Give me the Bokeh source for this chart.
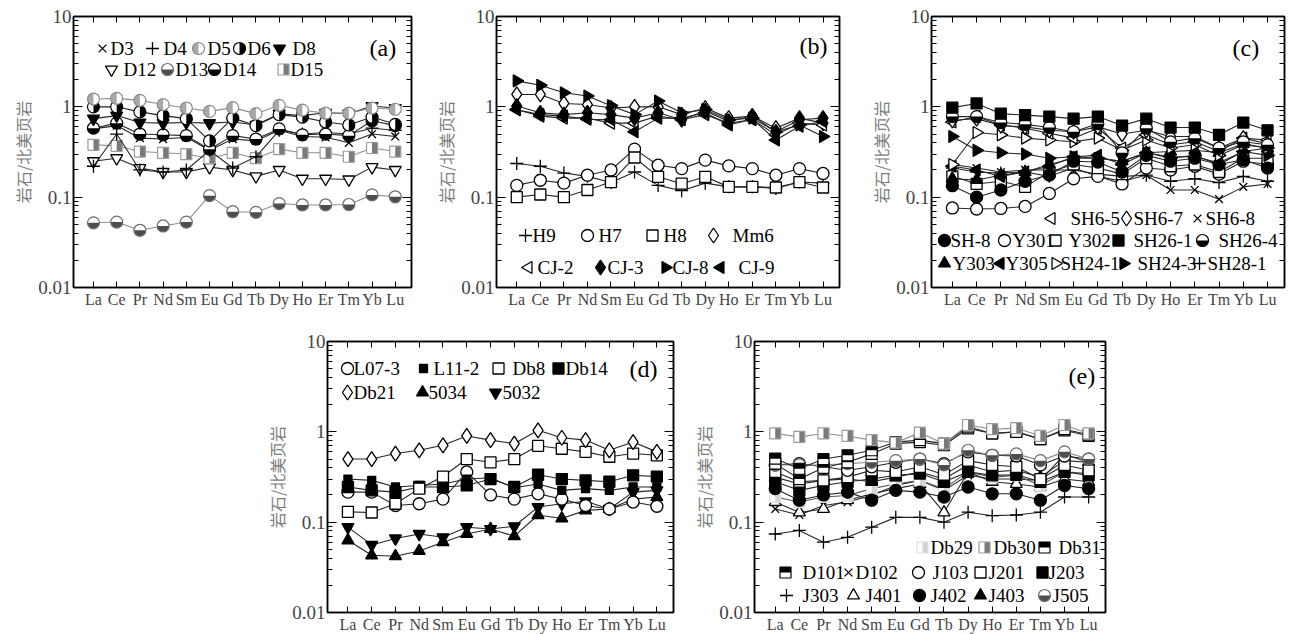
import math
from bokeh.plotting import figure
from bokeh.models import Range1d, FixedTicker, LogAxis, LinearAxis, LinearScale, Spacer
from bokeh.layouts import row, column
from bokeh.core.properties import value
from bokeh.embed import file_html
from bokeh.resources import INLINE

# ---------------------------------------------------------------- data
ELEMENTS = ["La", "Ce", "Pr", "Nd", "Sm", "Eu", "Gd", "Tb", "Dy", "Ho", "Er", "Tm", "Yb", "Lu"]
Y_MAJOR = [0.01, 0.1, 1, 10]
Y_LABELS = ["0.01", "0.1", "1", "10"]
Y_TITLE = "岩石/北美页岩"

# panel (a)
A_D3 = [0.57, 0.62, 0.45, 0.44, 0.46, 0.33, 0.44, 0.42, 0.55, 0.47, 0.46, 0.40, 0.50, 0.47]
A_D4 = [0.22, 0.50, 0.20, 0.19, 0.20, 0.33, 0.21, 0.28, 0.55, 0.50, 0.52, 0.50, 0.58, 0.55]
A_D5 = [1.22, 1.24, 1.18, 1.06, 0.97, 0.89, 0.98, 0.84, 1.04, 0.92, 0.85, 0.85, 0.97, 0.94]
A_D6 = [1.00, 1.00, 0.88, 0.80, 0.74, 0.42, 0.75, 0.62, 0.82, 0.77, 0.68, 0.63, 0.77, 0.64]
A_D8 = [0.74, 0.80, 0.67, 0.66, 0.67, 0.66, 0.68, 0.63, 0.84, 0.80, 0.86, 0.84, 1.02, 0.97]
A_D12 = [0.25, 0.27, 0.21, 0.19, 0.19, 0.215, 0.20, 0.17, 0.20, 0.16, 0.16, 0.157, 0.215, 0.20]
A_D13 = [0.052, 0.053, 0.043, 0.048, 0.053, 0.104, 0.069, 0.068, 0.085, 0.082, 0.082, 0.083, 0.106, 0.101]
A_D14 = [0.58, 0.66, 0.50, 0.49, 0.48, 0.34, 0.48, 0.44, 0.57, 0.49, 0.50, 0.48, 0.70, 0.62]
A_D15 = [0.38, 0.37, 0.32, 0.31, 0.30, 0.27, 0.31, 0.27, 0.34, 0.31, 0.31, 0.28, 0.35, 0.32]

# panel (b)
B_H9 = [0.236, 0.22, 0.185, 0.17, 0.145, 0.19, 0.135, 0.118, 0.143, 0.13, 0.13, 0.125, 0.147, 0.143]
B_H7 = [0.135, 0.154, 0.143, 0.175, 0.20, 0.34, 0.226, 0.207, 0.257, 0.222, 0.207, 0.175, 0.207, 0.183]
B_H8 = [0.10, 0.107, 0.10, 0.12, 0.147, 0.275, 0.168, 0.141, 0.168, 0.13, 0.13, 0.128, 0.147, 0.128]
B_MM6 = [1.37, 1.37, 1.09, 1.06, 0.97, 1.00, 1.00, 0.82, 0.97, 0.75, 0.79, 0.58, 0.75, 0.66]
B_CJ2 = [0.93, 0.79, 0.75, 0.75, 0.66, 0.66, 0.79, 0.72, 0.82, 0.66, 0.72, 0.49, 0.66, 0.63]
B_CJ3 = [1.02, 0.86, 0.82, 0.86, 0.82, 0.75, 0.86, 0.72, 0.90, 0.69, 0.79, 0.53, 0.72, 0.75]
B_CJ8 = [1.94, 1.73, 1.43, 1.32, 1.03, 0.82, 1.16, 0.86, 0.93, 0.72, 0.75, 0.53, 0.63, 0.47]
B_CJ9 = [0.93, 0.82, 0.79, 0.73, 0.72, 0.53, 0.75, 0.75, 0.86, 0.63, 0.73, 0.43, 0.61, 0.69]

# panel (c)
C_SH6_5 = [0.68, 0.78, 0.63, 0.58, 0.51, 0.45, 0.58, 0.35, 0.49, 0.38, 0.41, 0.32, 0.45, 0.43]
C_SH6_7 = [0.71, 0.74, 0.62, 0.60, 0.55, 0.53, 0.60, 0.50, 0.55, 0.47, 0.47, 0.35, 0.45, 0.39]
C_SH6_8 = [0.23, 0.21, 0.19, 0.20, 0.20, 0.20, 0.18, 0.17, 0.175, 0.12, 0.12, 0.095, 0.13, 0.14]
C_SH_8 = [0.134, 0.10, 0.12, 0.15, 0.176, 0.25, 0.245, 0.19, 0.29, 0.25, 0.27, 0.23, 0.26, 0.21]
C_Y301 = [0.076, 0.074, 0.075, 0.079, 0.11, 0.16, 0.17, 0.14, 0.21, 0.20, 0.22, 0.18, 0.25, 0.23]
C_Y302 = [0.17, 0.14, 0.15, 0.13, 0.19, 0.23, 0.21, 0.18, 0.27, 0.22, 0.23, 0.19, 0.27, 0.27]
C_SH26_1 = [0.98, 1.09, 0.84, 0.81, 0.78, 0.74, 0.78, 0.62, 0.74, 0.59, 0.59, 0.49, 0.67, 0.55]
C_SH26_4 = [0.78, 0.78, 0.67, 0.64, 0.59, 0.53, 0.65, 0.31, 0.58, 0.41, 0.45, 0.35, 0.41, 0.38]
C_Y303 = [0.16, 0.155, 0.175, 0.19, 0.23, 0.27, 0.27, 0.25, 0.31, 0.32, 0.33, 0.31, 0.39, 0.35]
C_Y305 = [0.22, 0.20, 0.17, 0.19, 0.22, 0.28, 0.29, 0.23, 0.31, 0.28, 0.28, 0.24, 0.32, 0.35]
C_SH24_1 = [0.23, 0.52, 0.49, 0.45, 0.43, 0.41, 0.45, 0.33, 0.43, 0.35, 0.38, 0.29, 0.38, 0.35]
C_SH24_3 = [0.47, 0.33, 0.31, 0.30, 0.27, 0.28, 0.27, 0.25, 0.31, 0.27, 0.29, 0.23, 0.32, 0.29]
C_SH28_1 = [0.21, 0.19, 0.185, 0.19, 0.17, 0.21, 0.17, 0.15, 0.175, 0.15, 0.16, 0.145, 0.17, 0.15]

# panel (d)
D_L07_3 = [0.215, 0.215, 0.153, 0.16, 0.18, 0.36, 0.20, 0.18, 0.206, 0.18, 0.153, 0.14, 0.167, 0.15]
D_L11_2 = [0.30, 0.29, 0.245, 0.255, 0.265, 0.30, 0.31, 0.24, 0.265, 0.225, 0.235, 0.225, 0.245, 0.245]
D_DB8 = [0.13, 0.128, 0.16, 0.235, 0.32, 0.50, 0.46, 0.50, 0.70, 0.65, 0.60, 0.53, 0.575, 0.55]
D_DB14 = [0.245, 0.225, 0.215, 0.245, 0.245, 0.255, 0.30, 0.245, 0.335, 0.30, 0.29, 0.28, 0.33, 0.32]
D_DB21 = [0.50, 0.50, 0.575, 0.625, 0.71, 0.90, 0.81, 0.74, 1.04, 0.86, 0.81, 0.625, 0.77, 0.60]
D_5034 = [0.063, 0.043, 0.042, 0.048, 0.060, 0.074, 0.084, 0.070, 0.12, 0.11, 0.135, 0.14, 0.18, 0.19]
D_5032 = [0.088, 0.056, 0.066, 0.074, 0.068, 0.088, 0.084, 0.090, 0.147, 0.16, 0.17, 0.14, 0.215, 0.225]

# panel (e)
E_DB29 = [0.19, 0.167, 0.19, 0.197, 0.235, 0.265, 0.29, 0.235, 0.36, 0.315, 0.33, 0.255, 0.36, 0.345]
E_DB30 = [0.96, 0.88, 0.96, 0.90, 0.81, 0.76, 0.98, 0.74, 1.19, 1.07, 1.10, 0.90, 1.19, 0.96]
E_DB31 = [0.505, 0.39, 0.50, 0.55, 0.625, 0.77, 0.81, 0.74, 1.14, 0.96, 1.00, 0.83, 1.07, 0.93]
E_D101 = [0.445, 0.30, 0.40, 0.46, 0.57, 0.74, 0.77, 0.71, 1.09, 0.96, 1.00, 0.83, 1.04, 0.90]
E_D102 = [0.14, 0.12, 0.153, 0.167, 0.197, 0.255, 0.29, 0.225, 0.33, 0.30, 0.30, 0.29, 0.56, 0.46]
E_J103 = [0.43, 0.445, 0.41, 0.375, 0.41, 0.46, 0.50, 0.445, 0.60, 0.55, 0.54, 0.43, 0.54, 0.50]
E_J201 = [0.36, 0.28, 0.29, 0.315, 0.375, 0.36, 0.41, 0.335, 0.48, 0.43, 0.41, 0.30, 0.43, 0.375]
E_J203 = [0.28, 0.225, 0.255, 0.28, 0.30, 0.33, 0.345, 0.28, 0.36, 0.33, 0.335, 0.28, 0.36, 0.33]
E_J303 = [0.074, 0.081, 0.060, 0.068, 0.088, 0.113, 0.113, 0.10, 0.129, 0.118, 0.12, 0.129, 0.19, 0.19]
E_J401 = [0.167, 0.128, 0.14, 0.175, 0.206, 0.235, 0.265, 0.128, 0.36, 0.28, 0.265, 0.245, 0.30, 0.28]
E_J402 = [0.235, 0.175, 0.20, 0.215, 0.175, 0.225, 0.215, 0.19, 0.245, 0.206, 0.206, 0.175, 0.255, 0.235]
E_J403 = [0.315, 0.265, 0.29, 0.30, 0.28, 0.315, 0.36, 0.30, 0.43, 0.36, 0.375, 0.315, 0.48, 0.46]
E_J505 = [0.43, 0.43, 0.43, 0.445, 0.46, 0.48, 0.50, 0.43, 0.625, 0.55, 0.57, 0.48, 0.60, 0.50]

# ---------------------------------------------------------------- styles
X_IDX = list(range(len(ELEMENTS)))
X_START, X_END = -0.86, 13.7
Y_MIN, Y_MAX = 0.01, 10
Y_MINOR = [k * 10.0 ** e for e in (-2, -1, 0) for k in range(2, 10)]

DARK = "#262626"
GRAYL = "#8f8f8f"
SERIF = "Liberation Serif"

def mk(marker, fill="white", edge="black", size=12, angle=0.0, line=DARK):
    return dict(kind="marker", marker=marker, fill=fill, edge=edge, size=size, angle=angle, line=line)

def hc(half, fill, edge="black", size=12, line=DARK):
    return dict(kind="half_circle", half=half, fill=fill, edge=edge, size=size, line=line)

def hs(half, fill, edge="black", size=11, line=DARK):
    return dict(kind="half_square", half=half, fill=fill, edge=edge, size=size, line=line)

HP = math.pi / 2
STYLES = {
    "x": mk("x", fill=None, size=11),
    "plus": mk("cross", fill=None, size=13),
    "circ_o": mk("circle", "white"),
    "circ_f": mk("circle", "black"),
    "sq_o": mk("square", "white", size=11),
    "sq_f": mk("square", "black", size=11),
    "sq_small": mk("square", "black", size=8),
    "dia_o": mk("diamond", "white", size=15),
    "dia_f": mk("diamond", "black", size=15),
    "up_o": mk("triangle", "white", size=12),
    "up_f": mk("triangle", "black", size=12),
    "dn_o": mk("inverted_triangle", "white", size=12),
    "dn_f": mk("inverted_triangle", "black", size=12),
    "lt_o": mk("triangle", "white", size=12, angle=HP),
    "lt_f": mk("triangle", "black", size=12, angle=HP),
    "rt_o": mk("triangle", "white", size=12, angle=-HP),
    "rt_f": mk("triangle", "black", size=12, angle=-HP),
    "hc_left_lg": hc("left", "#a9a9a9", edge="#8c8c8c", line=GRAYL),
    "hc_right_k": hc("right", "black"),
    "hc_bot_dg": hc("bottom", "#4d4d4d", edge="#6e6e6e", line=GRAYL),
    "hc_bot_k": hc("bottom", "black"),
    "hs_right_g": hs("right", "#7a7a7a", edge="#9c9c9c", line=GRAYL),
    "hs_right_lg": hs("right", "#d4d4d4", edge="#dedede", line="#555555"),
    "hs_top_k": hs("top", "black"),
}

# series: (name, values, style)
PANEL_A = [("D12", A_D12, "dn_o"), ("D13", A_D13, "hc_bot_dg"), ("D15", A_D15, "hs_right_g"),
           ("D4", A_D4, "plus"), ("D3", A_D3, "x"), ("D14", A_D14, "hc_bot_k"),
           ("D8", A_D8, "dn_f"), ("D6", A_D6, "hc_right_k"), ("D5", A_D5, "hc_left_lg")]
PANEL_B = [("H9", B_H9, "plus"), ("H7", B_H7, "circ_o"), ("H8", B_H8, "sq_o"),
           ("Mm6", B_MM6, "dia_o"), ("CJ-2", B_CJ2, "lt_o"), ("CJ-9", B_CJ9, "lt_f"),
           ("CJ-3", B_CJ3, "dia_f"), ("CJ-8", B_CJ8, "rt_f")]
PANEL_C = [("SH6-8", C_SH6_8, "x"), ("SH28-1", C_SH28_1, "plus"), ("Y301", C_Y301, "circ_o"),
           ("Y302", C_Y302, "sq_o"), ("SH-8", C_SH_8, "circ_f"), ("Y303", C_Y303, "up_f"),
           ("Y305", C_Y305, "lt_f"), ("SH24-3", C_SH24_3, "rt_f"), ("SH24-1", C_SH24_1, "rt_o"),
           ("SH6-5", C_SH6_5, "lt_o"), ("SH6-7", C_SH6_7, "dia_o"), ("SH26-4", C_SH26_4, "hc_bot_k"),
           ("SH26-1", C_SH26_1, "sq_f")]
PANEL_D = [("5034", D_5034, "up_f"), ("5032", D_5032, "dn_f"), ("L07-3", D_L07_3, "circ_o"),
           ("L11-2", D_L11_2, "sq_small"), ("Db14", D_DB14, "sq_f"), ("Db8", D_DB8, "sq_o"),
           ("Db21", D_DB21, "dia_o")]
PANEL_E = [("J303", E_J303, "plus"), ("D102", E_D102, "x"), ("J401", E_J401, "up_o"),
           ("Db29", E_DB29, "hs_right_lg"), ("J402", E_J402, "circ_f"), ("J203", E_J203, "sq_f"),
           ("J403", E_J403, "up_f"), ("J201", E_J201, "sq_o"), ("J103", E_J103, "circ_o"),
           ("J505", E_J505, "hc_bot_dg"), ("D101", E_D101, "hs_top_k"), ("Db31", E_DB31, "hs_top_k"),
           ("Db30", E_DB30, "hs_right_g")]

# legend layout: (series, marker x, text x, row y from frame top) in frame pixels
LEG_A = [("D3", 29, 37, 32), ("D4", 79, 90, 32), ("D5", 125, 134, 32), ("D6", 166, 174, 32),
         ("D8", 206, 219, 32),
         ("D12", 38, 50, 53), ("D13", 94, 102, 53), ("D14", 141, 150, 53), ("D15", 210, 217, 53)]
LEG_B = [("H9", 29, 36, 219), ("H7", 91, 102, 219), ("H8", 156, 167, 219), ("Mm6", 217, 236, 219),
         ("CJ-2", 32, 41, 251), ("CJ-3", 104, 111, 251), ("CJ-8", 169, 176, 251), ("CJ-9", 224, 242, 251)]
LEG_C = [("SH6-5", 120, 139, 202), ("SH6-7", 195, 202, 202), ("SH6-8", 266, 274, 202),
         ("SH-8", 13, 19, 224), ("Y301", 73, 81, 224), ("Y302", 124, 137, 224),
         ("SH26-1", 187, 202, 224), ("SH26-4", 271, 287, 224),
         ("Y303", 13, 21, 247), ("Y305", 69, 74, 247), ("SH24-1", 124, 129, 247),
         ("SH24-3", 192, 206, 247), ("SH28-1", 268, 276, 247)]
LEG_D = [("L07-3", 20, 26, 27), ("L11-2", 96, 106, 27), ("Db8", 171, 185, 27), ("Db14", 231, 238, 27),
         ("Db21", 20, 26, 51), ("5034", 95, 101, 51), ("5032", 168, 175, 51)]
LEG_E = [("Db29", 168, 176, 206), ("Db30", 230, 239, 206), ("Db31", 290, 304, 206),
         ("D101", 31, 48, 231), ("D102", 94, 101, 231), ("J103", 164, 178, 231),
         ("J201", 226, 234, 231), ("J203", 288, 294, 231),
         ("J303", 32, 48, 254), ("J401", 99, 111, 254), ("J402", 165, 176, 254),
         ("J403", 226, 234, 254), ("J505", 290, 298, 254)]

FONT_LEG = "19px"


def shifted(xs, ys, dxp, dyp, space, fw, fh):
    if space == "px":
        return [x + dxp for x in xs], [y + dyp for y in ys]
    ux = (X_END - X_START) / fw
    uy = (math.log10(Y_MAX) - math.log10(Y_MIN)) / fh
    return [x + dxp * ux for x in xs], [y * 10 ** (dyp * uy) for y in ys]


def draw_marker(p, xs, ys, st, space, fw, fh):
    kw = dict(x_range_name="px", y_range_name="py") if space == "px" else {}
    s = st["size"]
    if st["kind"] == "marker":
        p.scatter(xs, ys, marker=st["marker"], size=s, angle=st["angle"],
                  fill_color=st["fill"], line_color=st["edge"], line_width=1.3, **kw)
    elif st["kind"] == "half_circle":
        ang = {"left": (HP, 3 * HP), "right": (-HP, HP), "top": (0, math.pi),
               "bottom": (math.pi, 2 * math.pi)}[st["half"]]
        p.scatter(xs, ys, marker="circle", size=s, fill_color="white", line_color=None, **kw)
        p.wedge(xs, ys, radius=s / 2.0, radius_units="screen", start_angle=ang[0], end_angle=ang[1],
                fill_color=st["fill"], line_color=None, **kw)
        p.scatter(xs, ys, marker="circle", size=s, fill_color=None, line_color=st["edge"],
                  line_width=1.2, **kw)
    else:
        h = st["half"]
        off = s / 4.0
        d = {"left": (-off, 0), "right": (off, 0), "top": (0, off), "bottom": (0, -off)}[h]
        w, hh = (s / 2.0, s) if h in ("left", "right") else (s, s / 2.0)
        hx, hy = shifted(xs, ys, d[0], d[1], space, fw, fh)
        p.scatter(xs, ys, marker="square", size=s, fill_color="white", line_color=None, **kw)
        p.rect(hx, hy, width=w, height=hh, width_units="screen", height_units="screen",
               fill_color=st["fill"], line_color=None, **kw)
        p.scatter(xs, ys, marker="square", size=s, fill_color=None, line_color=st["edge"],
                  line_width=1.2, **kw)


def build_panel(tag, tag_xy, series, legend, fw, fh, left, right, top, bottom):
    p = figure(frame_width=fw, frame_height=fh, min_border_left=left, min_border_right=right,
               min_border_top=top, min_border_bottom=bottom,
               x_range=Range1d(X_START, X_END), y_range=Range1d(Y_MIN, Y_MAX), y_axis_type="log",
               toolbar_location=None, output_backend="svg",
               background_fill_color="white", border_fill_color="white")
    p.extra_x_ranges = {"px": Range1d(0, fw)}
    p.extra_y_ranges = {"py": Range1d(0, fh)}
    p.extra_x_scales = {"px": LinearScale()}
    p.extra_y_scales = {"py": LinearScale()}
    p.grid.visible = False
    p.outline_line_color = "black"
    p.outline_line_width = 1.5

    xa = p.xaxis[0]
    xa.ticker = FixedTicker(ticks=X_IDX)
    xa.major_label_overrides = {i: el for i, el in enumerate(ELEMENTS)}
    xa.major_label_text_font = SERIF
    xa.major_label_text_font_size = "16px"
    xa.major_label_text_font_style = "normal"
    xa.major_label_standoff = 3
    xa.major_tick_in = 6
    xa.major_tick_out = 0
    xa.minor_tick_line_color = None
    xa.axis_line_width = 1.5

    ya = p.yaxis[0]
    ya.ticker = FixedTicker(ticks=Y_MAJOR, minor_ticks=Y_MINOR)
    ya.major_label_overrides = {v: lab for v, lab in zip(Y_MAJOR, Y_LABELS)}
    ya.major_label_text_font = SERIF
    ya.major_label_text_font_size = "19px"
    ya.major_label_standoff = 2
    ya.major_tick_in = 9
    ya.major_tick_out = 0
    ya.minor_tick_in = 5
    ya.minor_tick_out = 0
    ya.axis_line_width = 1.5
    ya.axis_label = Y_TITLE
    ya.axis_label_text_font = "Noto Sans CJK SC"
    ya.axis_label_text_font_size = "16px"
    ya.axis_label_text_font_style = "normal"
    ya.axis_label_text_color = "#7d7d7d"
    ya.axis_label_standoff = 0

    ra = LogAxis(ticker=FixedTicker(ticks=Y_MAJOR, minor_ticks=Y_MINOR),
                 major_label_overrides={v: "" for v in Y_MAJOR},
                 major_label_text_font_size="1px", major_label_standoff=0,
                 major_tick_in=9, major_tick_out=0, minor_tick_in=5, minor_tick_out=0,
                 axis_line_width=1.5)
    p.add_layout(ra, "right")
    ta = LinearAxis(ticker=FixedTicker(ticks=X_IDX),
                    major_label_overrides={i: "" for i in X_IDX},
                    major_label_text_font_size="1px", major_label_standoff=0,
                    major_tick_in=6, major_tick_out=0, minor_tick_line_color=None,
                    axis_line_width=1.5)
    p.add_layout(ta, "above")

    styles = {}
    for name, vals, skey in series:
        st = STYLES[skey]
        styles[name] = st
        p.line(X_IDX, vals, line_color=st["line"], line_width=1.1)
        draw_marker(p, X_IDX, vals, st, "data", fw, fh)

    # legend
    for name, mx, tx, ry in legend:
        draw_marker(p, [mx], [fh - ry], styles[name], "px", fw, fh)
    p.text(x=[tx for _, _, tx, _ in legend], y=[fh - ry for _, _, _, ry in legend],
           text=[n for n, _, _, _ in legend], x_range_name="px", y_range_name="py",
           text_font=value(SERIF), text_font_size=FONT_LEG, text_baseline="middle",
           text_align="left", text_color="black")
    p.text(x=[tag_xy[0]], y=[fh - tag_xy[1]], text=[tag], x_range_name="px", y_range_name="py",
           text_font=value(SERIF), text_font_size="24px", text_baseline="middle",
           text_align="left", text_color="black")
    return p


FH = 271
pa = build_panel("(a)", (296, 31), PANEL_A, LEG_A, 338, FH, 73, 19, 16, 23)
pb = build_panel("(b)", (303, 29), PANEL_B, LEG_B, 343, FH, 66, 21, 16, 23)
pc = build_panel("(c)", (301, 31), PANEL_C, LEG_C, 353, FH, 71, 9, 16, 23)
pd = build_panel("(d)", (302, 27), PANEL_D, LEG_D, 346, FH, 77, 7, 31, 22)
pe = build_panel("(e)", (314, 34), PANEL_E, LEG_E, 351, FH, 74, 13, 31, 22)

layout = column(row(pa, pb, pc), row(Spacer(width=250, height=324), pd, pe))
open("out.html", "w").write(file_html(layout, INLINE))
